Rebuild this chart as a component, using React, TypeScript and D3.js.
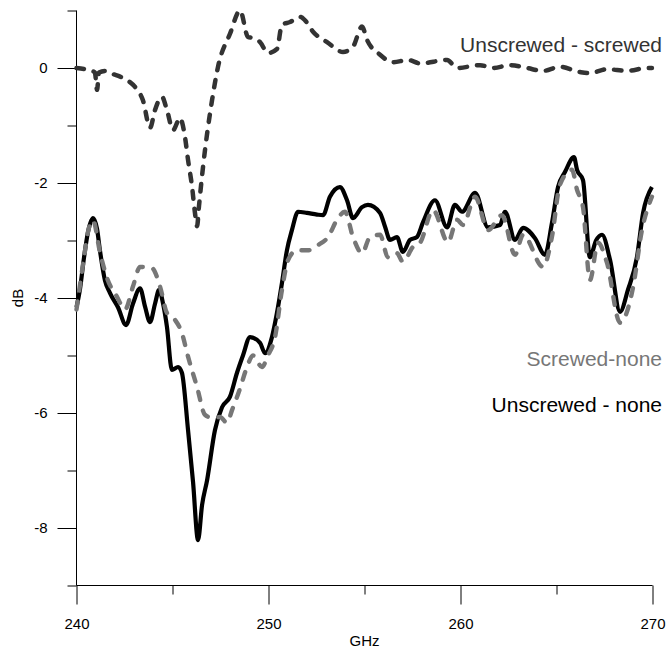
// Transmission difference vs frequency — three traces, grayscale print style.
import { useEffect, useRef } from "react";
import * as d3 from "d3";

const W = 666;
const H = 649;

// Unscrewed - screwed (dark dashed, top)
const freqTop = [
  240.0, 240.44, 240.8, 240.96, 241.07, 241.17, 241.54, 241.85, 242.27, 242.68,
  243.05, 243.46, 243.83, 244.09, 244.45, 244.71, 245.03, 245.39, 245.65, 245.81,
  246.02, 246.17, 246.28, 246.38, 246.59, 247.06, 247.37, 248.0, 248.52, 248.93,
  249.2, 249.56, 249.97, 250.44, 250.7, 251.12, 251.64, 251.9, 252.32, 253.05,
  253.88, 254.4, 254.87, 255.13, 255.81, 256.48, 257.27, 257.89, 259.3, 259.82,
  261.02, 261.69, 262.58, 263.46, 264.3, 265.18, 266.22, 266.74, 267.63, 268.67,
  269.71, 269.97,
];
const dbTop = [
  0, -0.02, -0.05, -0.08, -0.38, -0.08, -0.05, -0.1, -0.15, -0.22,
  -0.33, -0.56, -1.04, -0.73, -0.5, -0.73, -1.08, -0.87, -1.2, -1.6,
  -2.07, -2.52, -2.75, -2.4, -1.72, -0.56, 0.02, 0.6, 1.0, 0.54,
  0.52, 0.45, 0.26, 0.33, 0.75, 0.8, 0.89, 0.83, 0.63, 0.45,
  0.28, 0.37, 0.72, 0.49, 0.23, 0.1, 0.14, 0.08, 0.14, 0,
  0.05, 0, 0.05, 0, -0.05, 0.02, -0.07, -0.09, -0.02, -0.05,
  0, 0,
];

// Unscrewed - none (black solid)
const freqUnscrewed = [
  240.0, 240.18, 240.39, 240.6, 240.86, 241.07, 241.22, 241.48, 241.74, 242.16,
  242.58, 242.94, 243.31, 243.57, 243.83, 244.09, 244.3, 244.51, 244.71, 244.97,
  245.29, 245.49, 245.81, 246.07, 246.33, 246.54, 246.8, 247.21, 247.58, 247.99,
  248.36, 248.67, 249.04, 249.56, 249.82, 250.18, 250.44, 250.7, 250.96, 251.22,
  251.54, 252.0, 252.53, 252.84, 253.2, 253.72, 254.09, 254.4, 254.87, 255.18,
  255.81, 256.07, 256.33, 256.69, 257.0, 257.37, 257.73, 258.05, 258.67, 259.3,
  259.71, 260.08, 260.76, 261.43, 262.06, 262.32, 262.84, 263.26, 263.88, 264.4,
  264.76, 265.08, 265.44, 265.91, 266.07, 266.38, 266.74, 267.06, 267.37, 267.79,
  268.31, 268.72, 269.19, 269.51, 269.97,
];
const dbUnscrewed = [
  -4.16, -3.85, -3.3, -2.85, -2.61, -2.8, -3.17, -3.69, -3.91, -4.16,
  -4.47, -4.1, -3.83, -4.15, -4.42, -4.1, -3.86, -4.1, -4.5, -5.25,
  -5.2, -5.3, -6.3, -7.2, -8.21, -7.6, -7.17, -6.3, -5.9, -5.72,
  -5.3, -5.0, -4.68, -4.78, -4.96, -4.68, -4.26, -3.74, -3.17, -2.82,
  -2.5, -2.52, -2.55, -2.56, -2.24, -2.07, -2.3, -2.61, -2.42, -2.38,
  -2.52, -2.76, -2.99, -2.94, -3.2, -2.99, -2.94, -2.68, -2.3, -2.77,
  -2.38, -2.5, -2.17, -2.77, -2.73, -2.5, -2.99, -2.78, -2.96, -3.25,
  -2.7, -2.07, -1.81, -1.55, -1.77, -1.95, -3.29, -3.0, -2.9, -3.34,
  -4.24, -3.86, -3.29, -2.52, -2.07,
];

// Screwed-none (gray dashed)
const freqScrewed = [
  240.0, 240.39, 240.6, 240.86, 241.22, 241.59, 242.11, 242.53, 242.94, 243.31,
  243.93, 244.35, 244.71, 245.13, 245.49, 245.81, 246.28, 246.69, 247.11, 247.47,
  247.84, 248.1, 248.52, 248.88, 249.19, 249.66, 249.97, 250.34, 250.7, 251.02,
  251.48, 252.06, 252.58, 253.1, 253.57, 253.98, 254.4, 254.87, 255.29, 255.81,
  256.22, 256.69, 257.0, 257.53, 257.89, 258.57, 259.35, 259.82, 260.13, 260.76,
  261.43, 262.16, 262.84, 263.26, 264.3, 264.76, 265.18, 265.81, 266.07, 266.38,
  266.74, 267.16, 267.63, 268.31, 268.99, 269.45, 269.97,
];
const dbScrewed = [
  -4.2, -3.3, -2.85, -2.65, -3.2, -3.65, -3.98, -4.2, -3.8, -3.46,
  -3.48, -3.8, -4.26, -4.38, -4.61, -5.02, -5.55, -6.03, -6.09, -6.07,
  -6.17, -5.95, -5.57, -5.2, -5.0, -5.2, -5.0, -4.68, -3.86, -3.34,
  -3.17, -3.17, -3.08, -2.94, -2.64, -2.5, -2.94, -3.22, -2.94, -2.9,
  -3.29, -3.22, -3.37, -3.11, -3.04, -2.47, -3.03, -2.64, -2.73, -2.24,
  -2.82, -2.56, -3.25, -2.9, -3.46, -2.94, -2.03, -1.77, -2.12, -2.42,
  -3.69, -3.04, -3.39, -4.43, -3.81, -2.82, -2.24,
];

const xMajor = [240, 250, 260, 270];
const xMinor = [245, 255, 265];
const yMajor = [0, -2, -4, -6, -8];
const yMinor = [1, -1, -3, -5, -7, -9];

const FONT = "'Liberation Sans', Arial, sans-serif";

export default function App() {
  const ref = useRef<SVGSVGElement>(null);

  useEffect(() => {
    const svg = d3.select(ref.current);
    svg.selectAll("*").remove();

    const x = d3.scaleLinear().domain([240, 270]).range([76.5, 652.5]);
    const y = d3.scaleLinear().domain([-9, 1]).range([585.5, 10.5]);

    // y axis: short unlabeled ticks + long labeled ones
    const gy = svg.append("g").attr("transform", `translate(${x(240)},0)`);
    gy.append("g")
      .call(d3.axisLeft(y).tickValues(yMinor).tickSize(9).tickFormat(() => ""))
      .call((g) => g.select(".domain").remove());
    gy.append("g")
      .call(
        d3.axisLeft(y).tickValues(yMajor).tickSize(19).tickPadding(10)
          .tickFormat((d) => String(d)),
      )
      .call((g) => g.select(".domain").remove());
    gy.append("line")
      .attr("y1", y(1)).attr("y2", y(-9))
      .attr("stroke", "#000");

    // x axis
    const gx = svg.append("g").attr("transform", `translate(0,${y(-9)})`);
    gx.append("g")
      .call(d3.axisBottom(x).tickValues(xMinor).tickSize(9).tickFormat(() => ""))
      .call((g) => g.select(".domain").remove());
    gx.append("g")
      .call(
        d3.axisBottom(x).tickValues(xMajor).tickSize(19).tickPadding(14)
          .tickFormat((d) => String(d)),
      )
      .call((g) => g.select(".domain").remove());
    gx.append("line")
      .attr("x1", x(240)).attr("x2", x(270))
      .attr("stroke", "#000");

    svg.selectAll(".tick line").attr("stroke", "#000");
    svg.selectAll(".tick text")
      .attr("fill", "#000")
      .attr("font-family", FONT)
      .attr("font-size", 15);

    // axis titles
    svg.append("text")
      .attr("x", (x(240) + x(270)) / 2)
      .attr("y", 646)
      .attr("text-anchor", "middle")
      .attr("font-family", FONT)
      .attr("font-size", 15)
      .text("GHz");
    svg.append("text")
      .attr("transform", `translate(23,${y(-4)}) rotate(-90)`)
      .attr("text-anchor", "middle")
      .attr("font-family", FONT)
      .attr("font-size", 15)
      .text("dB");

    const line = d3
      .line<[number, number]>()
      .x((d) => x(d[0]))
      .y((d) => y(d[1]))
      .curve(d3.curveMonotoneX);

    const zip = (f: number[], v: number[]) =>
      f.map((fi, i) => [fi, v[i]] as [number, number]);

    svg.append("path")
      .attr("d", line(zip(freqUnscrewed, dbUnscrewed)))
      .attr("fill", "none")
      .attr("stroke", "#000")
      .attr("stroke-width", 4.2)
      .attr("stroke-linejoin", "round");

    svg.append("path")
      .attr("d", line(zip(freqScrewed, dbScrewed)))
      .attr("fill", "none")
      .attr("stroke", "#777")
      .attr("stroke-width", 4.4)
      .attr("stroke-dasharray", "8 11")
      .attr("stroke-linecap", "round");

    svg.append("path")
      .attr("d", line(zip(freqTop, dbTop)))
      .attr("fill", "none")
      .attr("stroke", "#333")
      .attr("stroke-width", 4.5)
      .attr("stroke-dasharray", "7.5 10")
      .attr("stroke-linecap", "round");

    // series labels
    const labels = [
      { text: "Unscrewed - screwed", y: 52, color: "#333" },
      { text: "Screwed-none", y: 366, color: "#777" },
      { text: "Unscrewed - none", y: 412, color: "#000" },
    ];
    svg.append("g")
      .selectAll("text")
      .data(labels)
      .join("text")
      .attr("x", 662)
      .attr("y", (d) => d.y)
      .attr("text-anchor", "end")
      .attr("font-family", FONT)
      .attr("font-size", 21)
      .attr("fill", (d) => d.color)
      .text((d) => d.text);
  }, []);

  return (
    <svg
      ref={ref}
      width={W}
      height={H}
      viewBox={`0 0 ${W} ${H}`}
      style={{ position: "absolute", left: 0, top: 0, background: "#fff" }}
    />
  );
}
